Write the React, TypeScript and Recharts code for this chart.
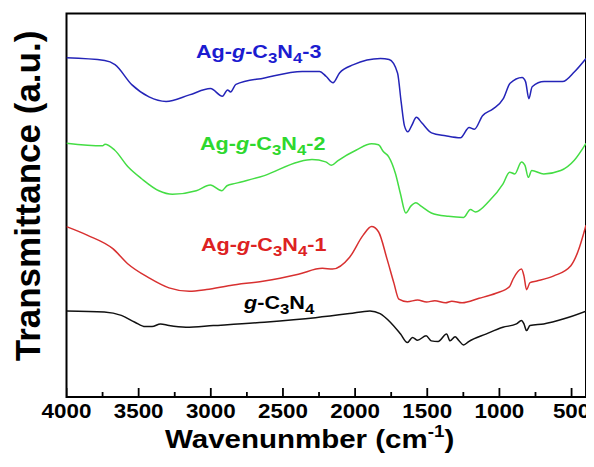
import React from "react";
import { LineChart, Line, XAxis, YAxis, ReferenceArea } from "recharts";

// wavenumber (cm-1) / transmittance (a.u.)
const ag3Wn = [4000, 3735, 3664, 3546, 3428, 3310, 3148, 3002, 2920, 2884, 2863, 2826, 2628, 2366, 2247, 2200, 2153, 2108, 2011, 1824, 1764, 1706, 1681, 1658, 1634, 1609, 1575, 1540, 1470, 1373, 1270, 1210, 1174, 1117, 1044, 973, 926, 843, 819, 796, 773, 690, 563, 478, 400];
const ag3T = [339.6, 336.9, 332.8, 312.5, 300.5, 296, 302.5, 308.9, 301.1, 307.5, 305.5, 313, 319.5, 326, 326, 320.9, 314.7, 324.5, 332.8, 338.9, 337.9, 324.5, 295.5, 271.5, 265.5, 271.5, 280, 274.9, 264.5, 261.5, 259.5, 269.8, 268.1, 281.7, 288.5, 298.7, 314.1, 319.9, 315.8, 298.7, 310.6, 315.8, 315.8, 326, 339];

const ag2Wn = [4000, 3750, 3733, 3667, 3574, 3479, 3360, 3266, 3101, 3003, 2924, 2888, 2830, 2629, 2393, 2299, 2204, 2164, 2121, 1991, 1886, 1838, 1803, 1767, 1720, 1685, 1649, 1614, 1579, 1543, 1472, 1354, 1248, 1201, 1166, 1071, 976, 929, 894, 847, 823, 800, 776, 693, 575, 481, 400];
const ag2T = [254.1, 251.5, 253.1, 247.3, 230.5, 218.5, 206.5, 203, 206.5, 212.2, 206.5, 211.5, 213.9, 221.7, 235.4, 237.7, 235.4, 232, 236.5, 247.3, 253.5, 252.5, 245.5, 240.5, 223.5, 203, 184.3, 191.1, 194.5, 191.1, 184.3, 180.9, 179.8, 187.7, 185.3, 196.2, 213.2, 225.1, 223.4, 235.4, 232, 220, 226.8, 223.4, 226.8, 237.1, 254];

const ag1Wn = [4000, 3857, 3679, 3574, 3431, 3290, 3149, 3030, 2865, 2629, 2393, 2227, 2157, 2038, 1944, 1886, 1838, 1779, 1732, 1697, 1638, 1567, 1505, 1448, 1374, 1330, 1259, 1141, 1024, 929, 906, 847, 830, 812, 788, 741, 623, 505, 457, 400];
const ag1T = [170.6, 162.1, 148.5, 133.2, 119.5, 109.3, 105.9, 107.6, 111.7, 116.2, 123, 128.8, 128.1, 140, 162.1, 170.6, 165.5, 138.3, 114.5, 98, 95.4, 97.1, 95, 96.5, 94.3, 96, 94.3, 98.8, 103.9, 110.7, 117.9, 128.1, 121.3, 107.5, 114.5, 116.2, 121.3, 131.5, 145.1, 172];

const gcnWn = [4000, 3738, 3620, 3526, 3455, 3407, 3349, 3290, 3172, 2983, 2629, 2275, 2039, 1897, 1827, 1756, 1685, 1638, 1602, 1567, 1508, 1472, 1425, 1366, 1342, 1307, 1283, 1248, 1213, 1094, 976, 882, 847, 830, 812, 788, 693, 553, 400];
const gcnT = [86.2, 85.1, 81.7, 74.9, 70.5, 70.5, 73.2, 71.5, 69.8, 71.5, 74.9, 79.4, 83.5, 86.2, 83.5, 74.9, 63, 54.5, 59.6, 56.9, 61.3, 56.2, 55.5, 63, 56.2, 60.3, 56.9, 52.1, 55.5, 63, 69.8, 73.2, 76.6, 73.2, 66.5, 71.5, 73.2, 78.3, 86];

const xTicks = [4000, 3750, 3500, 3250, 3000, 2750, 2500, 2250, 2000, 1750, 1500, 1250, 1000, 750, 500];

const zip = (wn: number[], t: number[]) => wn.map((w, i) => ({ wn: w, t: t[i] }));

// inward tick marks, drawn on the chart's own scales (null breaks the path between ticks)
const tickMarks = xTicks.flatMap((v) => [
  { wn: v, t: 0 },
  { wn: v, t: v % 500 === 0 ? 9 : 5 },
  { wn: v, t: null },
]);

const FONT = "'Liberation Sans', Arial, Helvetica, sans-serif";
const W = 586;
const H = 451;

const XTick = (props: any) => {
  const { x, y, payload } = props;
  if (payload.value % 500 !== 0) return <g />;
  return (
    <text
      transform={`translate(${x},${y + 21}) scale(1.12,1)`}
      textAnchor="middle"
      fontSize={20}
      fontWeight="bold"
      fontFamily={FONT}
      fill="#000"
    >
      {payload.value}
    </text>
  );
};

const SampleLabel = ({ x, y, color, pre, post }: { x: number; y: number; color: string; pre: string; post: string }) => (
  <text transform={`translate(${x},${y}) scale(1.2,1)`} fill={color} fontSize={18} fontWeight="bold" fontFamily={FONT}>
    {pre}
    <tspan fontStyle="italic">g</tspan>
    <tspan>-C</tspan>
    <tspan fontSize={14} dy={5}>3</tspan>
    <tspan dy={-5}>N</tspan>
    <tspan fontSize={14} dy={5}>4</tspan>
    <tspan dy={-5}>{post}</tspan>
  </text>
);

export default function App() {
  return (
    <div style={{ position: "relative", width: W, height: H }}>
      <style>{`body{overflow:hidden} .recharts-surface{overflow:visible}`}</style>
      <LineChart width={W} height={H} margin={{ top: 5.5, right: 8, bottom: 0, left: 58.5 }}>
        <XAxis
          dataKey="wn"
          type="number"
          domain={[400, 4000]}
          reversed
          allowDataOverflow
          ticks={xTicks}
          interval={0}
          tick={<XTick />}
          tickLine={false}
          axisLine={false}
          tickSize={0}
          tickMargin={0}
          height={62}
        />
        <YAxis type="number" domain={[0, 384]} hide allowDataOverflow />
        <ReferenceArea x1={400} x2={4000} y1={0} y2={384} fill="none" fillOpacity={0} stroke="#000" strokeWidth={2} />
        <Line data={tickMarks} dataKey="t" type="linear" stroke="#000" strokeWidth={1.8} dot={false} connectNulls={false} isAnimationActive={false} />
        <Line data={zip(gcnWn, gcnT)} dataKey="t" type="monotone" stroke="#111" strokeWidth={1.5} dot={false} isAnimationActive={false} />
        <Line data={zip(ag1Wn, ag1T)} dataKey="t" type="monotone" stroke="#d83030" strokeWidth={1.5} dot={false} isAnimationActive={false} />
        <Line data={zip(ag2Wn, ag2T)} dataKey="t" type="monotone" stroke="#44dd44" strokeWidth={1.5} dot={false} isAnimationActive={false} />
        <Line data={zip(ag3Wn, ag3T)} dataKey="t" type="monotone" stroke="#2424b8" strokeWidth={1.5} dot={false} isAnimationActive={false} />
      </LineChart>
      <svg width={W} height={H} style={{ position: "absolute", left: 0, top: 0, pointerEvents: "none", overflow: "visible" }}>
        <SampleLabel x={188} y={50} color="#1c1cd0" pre="Ag-" post="-3" />
        <SampleLabel x={192} y={142} color="#2ed82e" pre="Ag-" post="-2" />
        <SampleLabel x={193} y={243} color="#dd2222" pre="Ag-" post="-1" />
        <SampleLabel x={236} y={301} color="#000" pre="" post="" />
        <text transform="translate(32,188) rotate(-90)" textAnchor="middle" fontSize={35} fontWeight="bold" fontFamily={FONT} fill="#000">
          Transmittance (a.u.)
        </text>
        <text transform="translate(157,440) scale(1.18,1)" fontSize={25} fontWeight="bold" fontFamily={FONT} fill="#000">
          Wavenunmber (cm
          <tspan fontSize={16} dy={-11}>-1</tspan>
          <tspan dy={11}>)</tspan>
        </text>
      </svg>
    </div>
  );
}
